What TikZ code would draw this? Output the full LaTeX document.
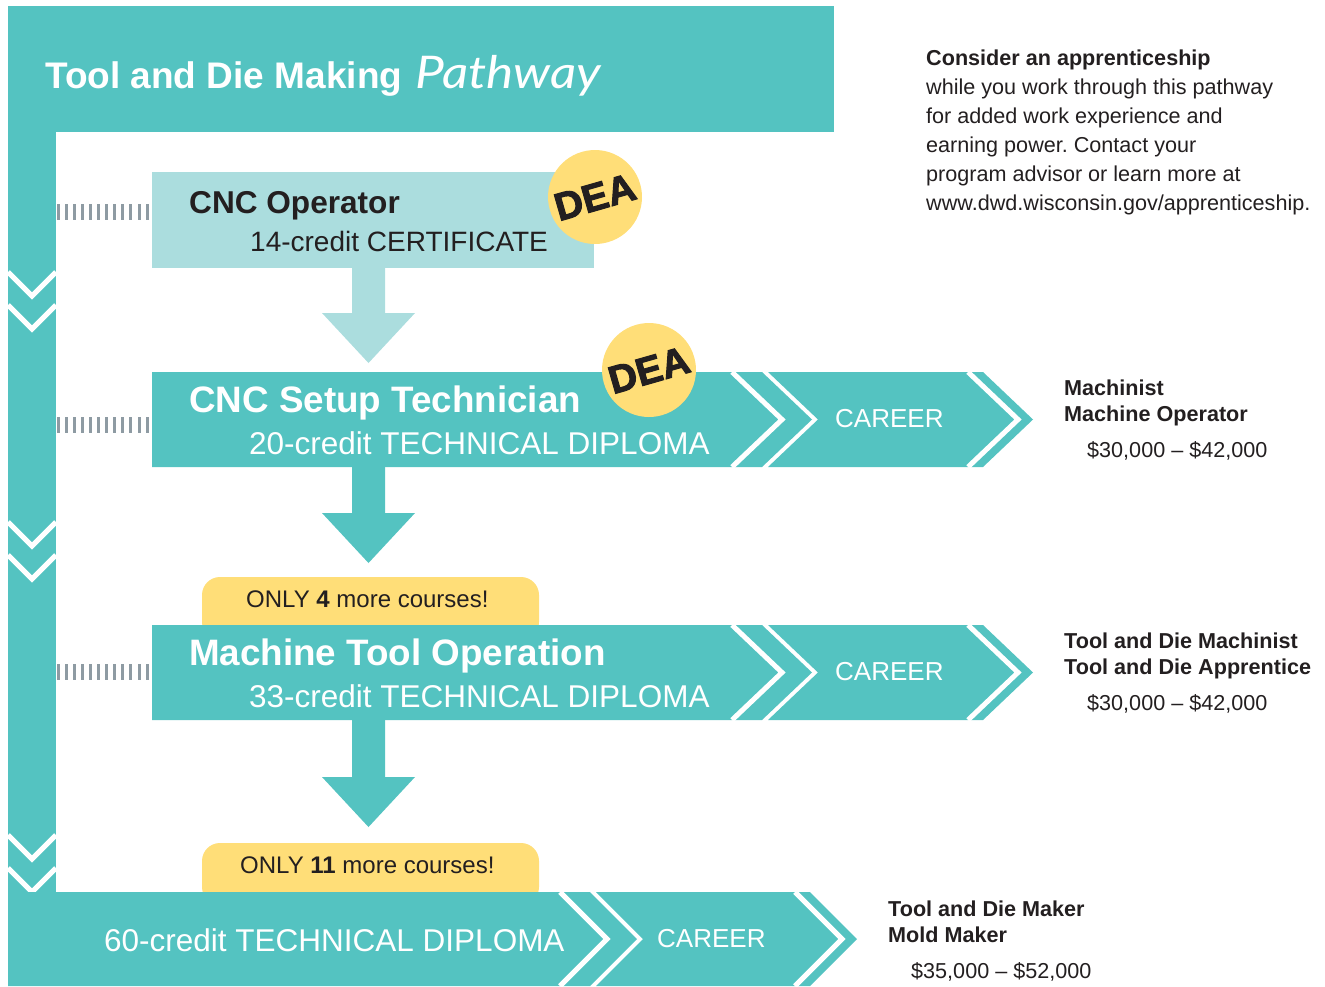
\documentclass[tikz,border=0pt]{standalone}
\usepackage{fontspec}
\setmainfont{Liberation Sans}
\newfontfamily\pathfont{Lato}
\newfontfamily\deafont{Liberation Sans Bold}[FakeBold=2.5]
\usepackage{tikz}
\usetikzlibrary{calc}
\frenchspacing

\definecolor{pathteal}{HTML}{54C3C1}
\definecolor{paleteal}{HTML}{ABDDDE}
\definecolor{badgeyellow}{HTML}{FFDE78}
\definecolor{inkblack}{HTML}{231F20}
\definecolor{tickgray}{HTML}{8E9BA3}

\newcommand\bigbold{\bfseries\fontsize{36.8}{40}\selectfont}
\newcommand\opbold{\bfseries\fontsize{31.6}{36}\selectfont}
\newcommand\credline{\fontsize{31.5}{36}\selectfont}
\newcommand\certline{\fontsize{28}{32}\selectfont}
\newcommand\careerline{\fontsize{26}{30}\selectfont}
\newcommand\onlyline{\fontsize{24}{28}\selectfont}
\newcommand\sidetext{\fontsize{21.6}{26}\selectfont}

\tikzset{
  lbl/.style={anchor=base west, inner sep=0pt},
  seam/.style={draw=white, line width=5pt},
  dea/.style={circle, fill=badgeyellow, minimum size=94pt, inner sep=0pt, rotate=16,
    text=inkblack, font=\deafont\fontsize{39}{39}\selectfont},
  onlybox/.style={fill=badgeyellow, rounded corners=18pt}
}

\begin{document}
\begin{tikzpicture}[x=1pt,y=-1pt]
\useasboundingbox (0,0) rectangle (1325,986);

% frame of the pathway
\fill[pathteal] (8,6) rectangle (834,132);
\fill[pathteal] (8,6) rectangle (56,986);
\foreach \y in {272,305,522,555,835,868}
	\draw[seam] (8,\y) -- (32,\y+24) -- (56,\y);
\node[lbl, white, font=\bfseries\fontsize{37}{40}\selectfont] (title) at (45,88) {Tool and Die Making};
\node[lbl, white, font=\pathfont\itshape\fontsize{45}{45}\selectfont] (pathway) at ($(title.base east)+(13,0)$) {\scalebox{1.14}[1]{Pathway}};

% tick lines
\foreach \y in {212,425,672}
	\foreach \i in {0,...,11}
		\fill[tickgray] (56.5+\i*8.1,\y-8) rectangle ++(3,16);

% certificate
\fill[paleteal] (152,172) rectangle (594,268);
\node[lbl, inkblack, font=\opbold] (oper) at (189,213) {CNC Operator};
\node[lbl, inkblack, font=\certline] (cert) at (250,251) {14-credit CERTIFICATE};
\node[dea] (dea1) at (595,197) {DEA};
\fill[paleteal] (352,268) -- (385,268) -- (385,313) -- (415,313) -- (368.5,363) -- (322,313) -- (352,313) -- cycle;

% diplomas
\fill[onlybox] (202,577) rectangle (539,640);
\node[lbl, inkblack, font=\onlyline] (only4) at (246,607) {ONLY \textbf{4} more courses!};
\foreach \t/\cred/\course in {372/20/CNC Setup Technician, 625/33/Machine Tool Operation} {
	\fill[pathteal] (152,\t) -- (762,\t) -- (812,\t+47.5) -- (762,\t+95) -- (152,\t+95) -- cycle;
	\draw[seam] (732,\t) -- (782,\t+47.5) -- (732,\t+95);
	\fill[pathteal] (768,\t) -- (983,\t) -- (1033,\t+47.5) -- (983,\t+95) -- (768,\t+95) -- (818,\t+47.5) -- cycle;
	\draw[seam] (968,\t) -- (1018,\t+47.5) -- (968,\t+95);
	\node[lbl, white, font=\bigbold] (course\t) at (189,\t+40) {\course};
	\node[lbl, white, font=\credline] (cred\t) at (249,\t+82) {\cred-credit TECHNICAL DIPLOMA};
	\node[lbl, white, font=\careerline] (career\t) at (835,\t+55) {CAREER};
}
\node[dea] (dea2) at (649,370) {DEA};
\fill[pathteal] (352,467) -- (385,467) -- (385,513) -- (415,513) -- (368.5,563) -- (322,513) -- (352,513) -- cycle;
\fill[pathteal] (352,720) -- (385,720) -- (385,777) -- (415,777) -- (368.5,827) -- (322,777) -- (352,777) -- cycle;

% last diploma
\fill[onlybox] (202,843) rectangle (539,905);
\node[lbl, inkblack, font=\onlyline] (only11) at (240,873) {ONLY \textbf{11} more courses!};
\fill[pathteal] (8,892) -- (590,892) -- (637,939) -- (590,986) -- (8,986) -- cycle;
\draw[seam] (560,892) -- (607,939) -- (560,986);
\fill[pathteal] (596,892) -- (810,892) -- (857,939) -- (810,986) -- (596,986) -- (643,939) -- cycle;
\draw[seam] (795,892) -- (842,939) -- (795,986);
\node[lbl, white, font=\credline] (cred60) at (104,951) {60-credit TECHNICAL DIPLOMA};
\node[lbl, white, font=\careerline] (career60) at (657,947) {CAREER};

% apprenticeship note
\node[lbl, inkblack, font=\sidetext\bfseries] (consider) at (926,65) {Consider an apprenticeship};
\foreach \txt [count=\i] in {while you work through this pathway, for added work experience and,
	earning power. Contact your, program advisor or learn more at, www.dwd.wisconsin.gov/apprenticeship.}
	\node[lbl, inkblack, font=\sidetext] (note\i) at (926,65+29*\i) {\txt};

% careers
\node[lbl, inkblack, font=\sidetext\bfseries] (job1a) at (1064,395) {Machinist};
\node[lbl, inkblack, font=\sidetext\bfseries] (job1b) at (1064,421) {Machine Operator};
\node[lbl, inkblack, font=\sidetext] (pay1) at (1087,457) {\$30,000 – \$42,000};
\node[lbl, inkblack, font=\sidetext\bfseries] (job2a) at (1064,648) {Tool and Die Machinist};
\node[lbl, inkblack, font=\sidetext\bfseries] (job2b) at (1064,674) {Tool and Die Apprentice};
\node[lbl, inkblack, font=\sidetext] (pay2) at (1087,710) {\$30,000 – \$42,000};
\node[lbl, inkblack, font=\sidetext\bfseries] (job3a) at (888,916) {Tool and Die Maker};
\node[lbl, inkblack, font=\sidetext\bfseries] (job3b) at (888,942) {Mold Maker};
\node[lbl, inkblack, font=\sidetext] (pay3) at (911,978) {\$35,000 – \$52,000};
\end{tikzpicture}
\end{document}
